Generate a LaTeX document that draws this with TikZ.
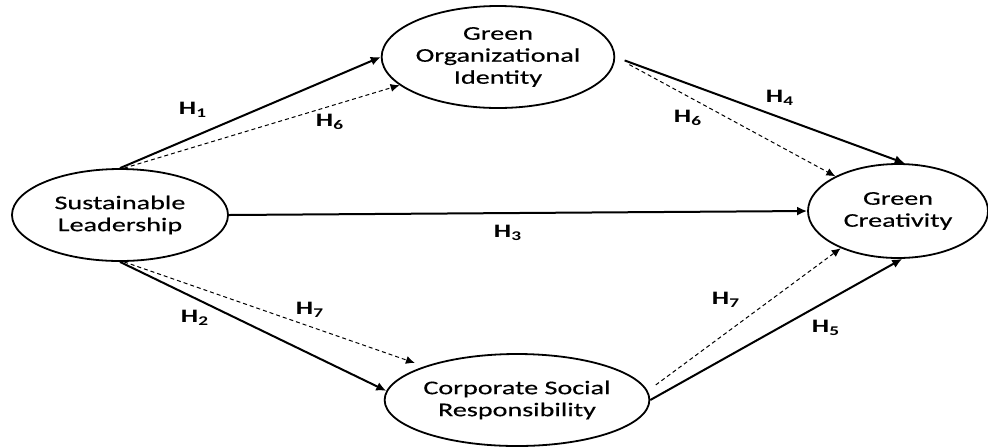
\documentclass[tikz,border=0pt]{standalone}
\usepackage{fontspec}
\setmainfont{Carlito}[FakeStretch=1.45, UprightFeatures={FakeBold=0.4}]
\usetikzlibrary{shapes.geometric,arrows.meta}
\begin{document}
\begin{tikzpicture}[x=0.5pt,y=-0.5pt,
  var/.style={ellipse, draw, line width=0.9pt, inner sep=0pt, align=center,
    font=\fontsize{9.7}{11}\selectfont},
  hyp/.style={font=\fontsize{9.5}{11}\selectfont\bfseries, inner sep=0pt},
  solidarrow/.style={line width=1pt, -{Latex[length=5pt,width=4.5pt]}},
  dasharrow/.style={line width=0.5pt, dash pattern=on 2pt off 1.5pt, -{Latex[length=4.5pt,width=4pt]}}]
\useasboundingbox (0,0) rectangle (988,446);

\node[var, minimum width=108pt, minimum height=46pt] (sl) at (120,215) {Sustainable\\Leadership};
\node[var, minimum width=108pt, minimum height=51pt] (goi) at (498,57) {Green\\Organizational\\Identity};
\node[var, minimum width=90pt, minimum height=47pt] (gc) at (898,211) {Green\\Creativity};
\node[var, minimum width=110pt, minimum height=46pt] (csr) at (517,400) {Corporate Social\\Responsibility};

% direct paths
\draw[solidarrow] (sl.north) -- (goi.west);
\draw[solidarrow] (sl.south) -- (csr.176);
\draw[solidarrow] (sl.east) -- (gc.west);
\draw[solidarrow, shorten <=5pt] (goi.east) -- (gc.82);
\draw[solidarrow] (csr.east) -- (gc.-85);

% mediated paths
\draw[dasharrow] (sl.85) -- (goi.196);
\draw[dasharrow, shorten <=8pt] (goi.east) -- (gc.151);
\draw[dasharrow, shorten >=5pt] (sl.-85) -- (csr.160);
\draw[dasharrow, shorten <=5pt] (csr.4) -- (gc.213);

% labels
\node[hyp] (h1) at (193,110) {H\textsubscript{1}};
\node[hyp] (h6a) at (330,122) {H\textsubscript{6}};
\node[hyp] (h4) at (780,98) {H\textsubscript{4}};
\node[hyp] (h6b) at (688,118) {H\textsubscript{6}};
\node[hyp] (h3) at (508,233) {H\textsubscript{3}};
\node[hyp] (h2) at (195,318) {H\textsubscript{2}};
\node[hyp] (h7a) at (310,310) {H\textsubscript{7}};
\node[hyp] (h7b) at (726,300) {H\textsubscript{7}};
\node[hyp] (h5) at (826,328) {H\textsubscript{5}};
\end{tikzpicture}
\end{document}
